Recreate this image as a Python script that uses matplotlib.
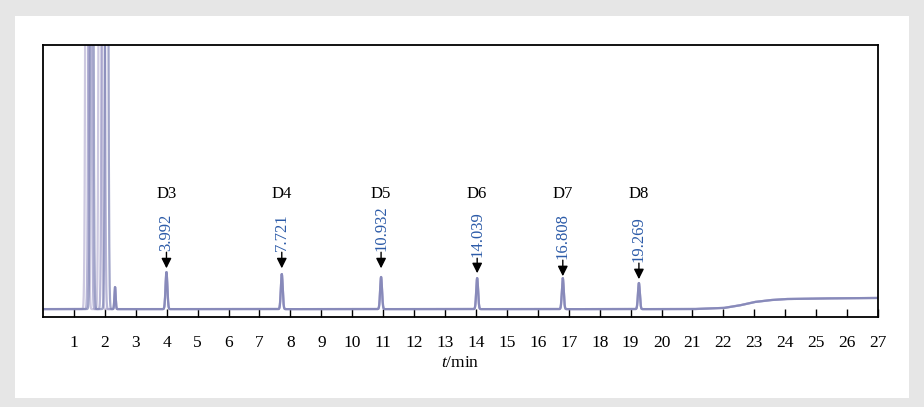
import numpy as np
import matplotlib

matplotlib.use("Agg")
import matplotlib.pyplot as plt
from matplotlib.patches import Rectangle

# peak table
peak_names = ["D3", "D4", "D5", "D6", "D7", "D8"]
peak_rt = [3.992, 7.721, 10.932, 14.039, 16.808, 19.269]
peak_top = [16.5, 15.8, 14.7, 14.3, 14.3, 12.5]
arrow_tip = [17.9, 17.9, 17.9, 16.1, 15.0, 13.9]
label_base = [23.8, 23.8, 23.8, 21.6, 20.9, 19.8]
name_y = 45.1

# solvent front (off scale) - one pair per overlaid run
solvent_rt = [[1.42, 1.85], [1.52, 1.95], [1.58, 2.06]]
solvent_top = [400.0, 400.0]
small_rt = [2.33]
small_top = [11.0]

# baseline drift (time, signal)
base_t = [0.0, 21.0, 22.0, 22.5, 23.0, 23.5, 24.0, 25.0, 27.0]
base_y = [2.9, 2.9, 3.3, 4.2, 5.5, 6.2, 6.6, 6.8, 7.0]

trace_colors = ["#b8b2d4", "#9a98c6", "#7a7fb2"]
xticks = list(range(1, 28))

plt.rcParams["font.family"] = ["Liberation Serif", "DejaVu Serif"]
plt.rcParams["mathtext.fontset"] = "custom"
plt.rcParams["mathtext.rm"] = "Liberation Serif"
plt.rcParams["mathtext.it"] = "Liberation Serif:italic"

fig = plt.figure(figsize=(9.24, 4.07), dpi=100, facecolor="#e6e6e6")
fig.add_artist(Rectangle((15 / 924, 9 / 407), 894 / 924, 382 / 407,
                         transform=fig.transFigure, facecolor="white",
                         edgecolor="none", zorder=-10))
ax = fig.add_axes([43 / 924, 90 / 407, 835 / 924, 272 / 407])
ax.set_facecolor("white")
ax.set_zorder(1)

t = np.linspace(0, 27, 8000)
for k, color in enumerate(trace_colors):
    y = np.interp(t, base_t, base_y)
    for rt, top in zip(solvent_rt[k], solvent_top):
        y = y + (top - 2.9) * np.exp(-0.5 * ((t - rt) / 0.035) ** 2)
    for rt, top in zip(small_rt, small_top):
        y = y + (top - 2.9) * np.exp(-0.5 * ((t - rt) / 0.02) ** 2)
    for rt, top in zip(peak_rt, peak_top):
        y = y + (top - 2.9) * np.exp(-0.5 * ((t - rt) / 0.03) ** 2)
    ax.plot(t, y, color=color, lw=1.6, alpha=0.7)

blue = "#2c5ba8"
for name, rt, tip, lb in zip(peak_names, peak_rt, arrow_tip, label_base):
    ax.annotate("", xy=(rt, tip), xytext=(rt, lb),
                arrowprops=dict(arrowstyle="-|>,head_length=0.6,head_width=0.3",
                                color="black", lw=1.0, shrinkA=0, shrinkB=0))
    ax.text(rt, lb + 0.3, f"{rt:.3f}", rotation=90, ha="center", va="bottom",
            color=blue, fontsize=12)
    ax.text(rt, name_y, name, ha="center", va="center", fontsize=12)

ax.set_xlim(0, 27)
ax.set_ylim(0, 100)
ax.set_xticks(xticks)
ax.set_yticks([])
ax.tick_params(axis="x", direction="in", length=6, width=1, labelsize=12.5, pad=13)
for s in ax.spines.values():
    s.set_linewidth(1.3)
ax.set_xlabel(r"$t$/min", fontsize=12.5, labelpad=3)

fig.savefig("out.png", dpi=100, facecolor=fig.get_facecolor())
